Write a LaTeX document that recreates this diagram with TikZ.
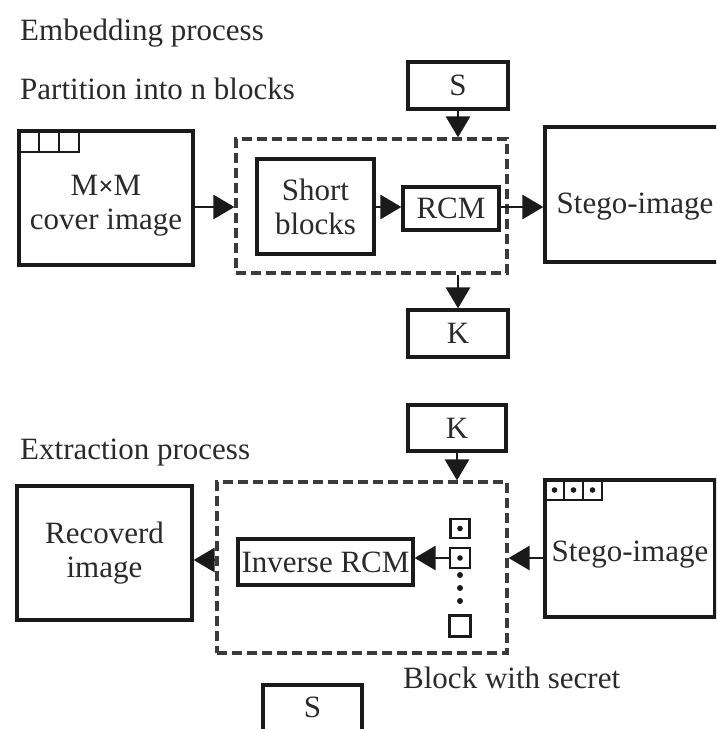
\documentclass[tikz,border=0pt]{standalone}
\usepackage{fontspec}
\setmainfont{Liberation Serif}
\usetikzlibrary{arrows.meta,calc}
\definecolor{txt}{HTML}{2A2A2A}
\definecolor{ln}{HTML}{1A1A1A}
\definecolor{dsh}{HTML}{3A3A3A}
\begin{document}
\begin{tikzpicture}[x=1pt,y=-1pt,
  every node/.style={text=txt,font=\fontsize{31}{35}\selectfont,align=center},
  box/.style={draw=ln,line width=3.2pt,inner sep=0pt,align=center},
  dbox/.style={draw=dsh,line width=3.2pt,dash pattern=on 10pt off 5pt,inner sep=0pt},
  sq/.style={draw=ln,line width=2.8pt},
  arr/.style={draw=ln,line width=2.8pt,-{Triangle[length=21pt,width=24pt]}},
  lbl/.style={anchor=base west,inner sep=0pt}]
\useasboundingbox (0,0) rectangle (716,729);
\begin{scope}
\clip (0,0) rectangle (716,729);
% labels
\node[lbl] (t1) at (20,40) {Embedding process};
\node[lbl] (t2) at (20,99) {Partition into n blocks};
\node[lbl] (t3) at (20,459) {Extraction process};
\node[lbl] (t4) at (403,688) {Block with secret};
% top part
\node[box,minimum width=174pt,minimum height=134pt] (cover) at (106,198) {};
\node (covtxt) at (106,206) {M\raisebox{0.5pt}{\fontsize{27}{27}\selectfont\bfseries ×}M\\[-1pt]cover image};
\foreach \i in {0,1,2} {\draw[sq] (19+\i*20,131) rectangle (39+\i*20,152);}
\node[dbox,minimum width=271pt,minimum height=134pt] (dtop) at (371.5,206) {};
\node[box,minimum width=117pt,minimum height=95pt] (short) at (315.5,206.5) {Short\\[-1pt]blocks};
\node[box,minimum width=96pt,minimum height=43pt] (rcm) at (451,208.5) {RCM};
\node[box,minimum width=185pt,minimum height=135pt] (stego) at (637.5,194.5) {};
\node (stegotxt) at (635,207) {Stego-image};
\node[box,minimum width=100pt,minimum height=47pt] (S1) at (458,85.5) {S};
\node[box,minimum width=100pt,minimum height=47pt] (K1) at (458,333.5) {K};
\coordinate (r1) at (0,207);
\draw[arr] (cover.east |- r1) -- (dtop.west |- r1);
\draw[arr] (short.east |- r1) -- (rcm.west |- r1);
\draw[arr] (rcm.east |- r1) -- (stego.west |- r1);
\draw[arr] (S1.south) -- (S1.south |- dtop.north);
\draw[arr] (K1.north |- dtop.south) -- (K1.north);
% bottom part
\node[box,minimum width=98pt,minimum height=46pt] (K2) at (457,428) {K};
\node[dbox,minimum width=290pt,minimum height=171pt] (dbot) at (362,567.5) {};
\node[box,minimum width=175pt,minimum height=134pt] (rec) at (104.5,553) {Recoverd\\[-1pt]image};
\node[box,minimum width=175pt,minimum height=46pt] (inv) at (325.5,562) {Inverse RCM};
\node[box,minimum width=170pt,minimum height=137pt] (stego2) at (630,548.5) {};
\node (stego2txt) at (630,555) {Stego-image};
\foreach \i in {0,1,2} {
  \draw[sq] (545+\i*19,480) rectangle (564+\i*19,500);
  \fill[ln] (554.5+\i*19,490) circle (2.8pt);}
\node[sq,minimum size=19pt,inner sep=0pt] (q1) at (460,528.5) {};
\fill[ln] (q1.center) circle (2.8pt);
\node[sq,minimum size=20pt,inner sep=0pt] (q2) at (460,558) {};
\fill[ln] (q2.center) circle (2.8pt);
\foreach \yy in {575,588,601} {\fill[ln] (460,\yy) circle (3pt);}
\node[sq,minimum size=21pt,inner sep=0pt] (q4) at (460,626) {};
\node[box,minimum width=99pt,minimum height=55pt] (S2) at (312.5,712.5) {};
\node (S2txt) at (312.5,707) {S};
\coordinate (r2) at (0,558);
\coordinate (r3) at (0,560);
\draw[arr] (K2.south) -- (K2.south |- dbot.north);
\draw[arr] (stego2.west |- r2) -- (dbot.east |- r2);
\draw[arr] (q2.west) -- (inv.east |- r2);
\draw[arr] (dbot.west |- r3) -- (rec.east |- r3);
\end{scope}
\end{tikzpicture}
\end{document}
